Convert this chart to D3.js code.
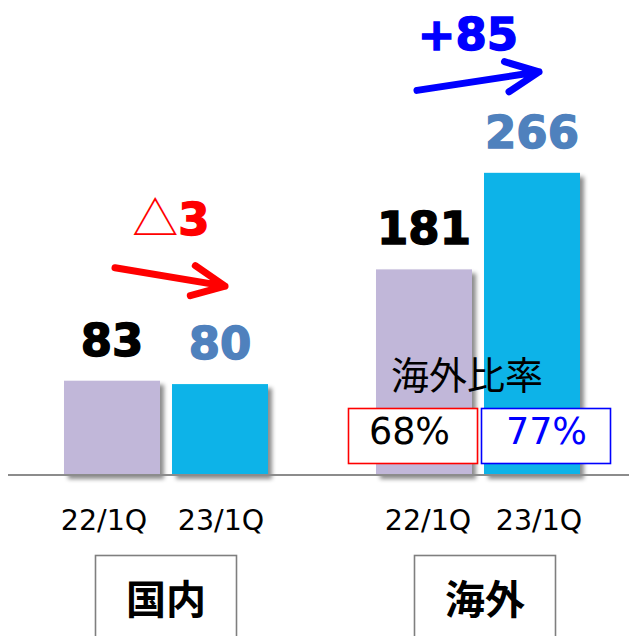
<!DOCTYPE html>
<html>
<head>
<meta charset="utf-8">
<script src="https://cdn.jsdelivr.net/npm/d3@7"></script>
<style>
  html, body { margin: 0; padding: 0; background: #fff; }
  svg { display: block; }
</style>
</head>
<body>
<div id="chart"></div>
<script>
// ---- data ----
const groups = ["国内", "海外"];
const periods = ["22/1Q", "23/1Q"];
const values = {
  "国内": [83, 80],
  "海外": [181, 266]
};
const changeLabels = ["△3", "+85"];
const ratioTitle = "海外比率";
const ratioLabels = ["68%", "77%"];

// ---- styles ----
const W = 629, H = 636;
const barColors = ["#c1b7d9", "#07b3e8"];
const labelColors = ["#000000", "#4f81bd"];
const changeColors = ["#ff0000", "#0000ff"];

const svg = d3.select("#chart").append("svg")
  .attr("width", W).attr("height", H);

const defs = svg.append("defs");
const f = defs.append("filter").attr("id", "shadow")
  .attr("x", "-10%").attr("y", "-10%").attr("width", "130%").attr("height", "130%");
f.append("feDropShadow").attr("dx", 4).attr("dy", 4)
  .attr("stdDeviation", 2.2).attr("flood-color", "#000").attr("flood-opacity", 0.45);

// ---- scales ----
const x0 = d3.scaleBand().domain(groups).range([64, 580]).paddingInner(108 / 312).paddingOuter(0);
const x1 = d3.scaleBand().domain(periods).range([0, x0.bandwidth()]).paddingInner(12 / 108).paddingOuter(0);
const baseY = 475;
const y = d3.scaleLinear().domain([0, 300]).range([baseY, baseY - 1.136 * 300]);

const xc = (g, i) => x0(g) + x1(periods[i]) + x1.bandwidth() / 2;

// ---- bars ----
groups.forEach(g => {
  const gg = svg.append("g");
  gg.selectAll("rect").data(values[g]).join("rect")
    .attr("x", (d, i) => x0(g) + x1(periods[i]))
    .attr("y", d => y(d))
    .attr("width", x1.bandwidth())
    .attr("height", d => y(0) - y(d))
    .attr("fill", (d, i) => barColors[i])
    .attr("filter", "url(#shadow)");
});

// ---- baseline ----
svg.append("line")
  .attr("x1", 8).attr("x2", W).attr("y1", baseY).attr("y2", baseY)
  .attr("stroke", "#8c8c8c").attr("stroke-width", 2);

// ---- value labels ----
groups.forEach(g => {
  svg.append("g").selectAll("text").data(values[g]).join("text")
    .attr("x", (d, i) => xc(g, i))
    .attr("y", d => y(d) - 25)
    .attr("text-anchor", "middle")
    .attr("font-family", "'DejaVu Sans', Verdana, sans-serif")
    .attr("font-weight", "bold")
    .attr("font-size", 45)
    .attr("fill", (d, i) => labelColors[i])
    .attr("stroke", (d, i) => labelColors[i])
    .attr("stroke-width", 1.4)
    .text(d => d);
});

// ---- period tick labels ----
const tickDx = [[-8, 1], [4, 7]];
groups.forEach((g, gi) => {
  svg.append("g").selectAll("text").data(periods).join("text")
    .attr("x", (d, i) => xc(g, i) + tickDx[gi][i])
    .attr("y", 530)
    .attr("text-anchor", "middle")
    .attr("font-family", "'DejaVu Sans', Verdana, sans-serif")
    .attr("font-size", 28.5)
    .attr("fill", "#000")
    .text(d => d);
});

// ---- group boxes ----
groups.forEach((g, gi) => {
  const cx = x0(g) + x0.bandwidth() / 2 + (gi === 0 ? 0 : 7);
  svg.append("rect")
    .attr("x", cx - 70.5).attr("y", 555.5)
    .attr("width", 141).attr("height", 100)
    .attr("fill", "none").attr("stroke", "#7f7f7f").attr("stroke-width", 1.6);
  svg.append("text")
    .attr("x", cx).attr("y", 597)
    .attr("text-anchor", "middle").attr("dominant-baseline", "central")
    .attr("font-family", "'Noto Sans CJK JP', sans-serif")
    .attr("font-weight", "bold").attr("font-size", 40)
    .attr("fill", "#000").text(g);
});

// ---- change arrows ----
function arrow(xs, ys, xt, yt, color) {
  const ang = Math.atan2(yt - ys, xt - xs);
  const len = 36, spread = 25 * Math.PI / 180;
  const a1 = [xt - len * Math.cos(ang - spread), yt - len * Math.sin(ang - spread)];
  const a2 = [xt - len * Math.cos(ang + spread), yt - len * Math.sin(ang + spread)];
  const p = d3.path();
  p.moveTo(xs, ys); p.lineTo(xt, yt);
  p.moveTo(a1[0], a1[1]); p.lineTo(xt, yt); p.lineTo(a2[0], a2[1]);
  svg.append("path").attr("d", p.toString())
    .attr("fill", "none").attr("stroke", color).attr("stroke-width", 7)
    .attr("stroke-linecap", "round").attr("stroke-linejoin", "round");
}
// domestic (decrease)
const d0 = xc("国内", 0), d1 = xc("国内", 1);
arrow(d0 + 3, y(values["国内"][0]) - 113, d1 + 5, y(values["国内"][1]) - 98, changeColors[0]);
const t1 = svg.append("text")
  .attr("x", (d0 + d1) / 2 + 5).attr("y", 235)
  .attr("text-anchor", "middle").attr("fill", changeColors[0]);
t1.append("tspan").attr("font-family", "'Noto Sans CJK JP', sans-serif")
  .attr("font-size", 46).attr("font-weight", 400).text(changeLabels[0].slice(0, 1));
t1.append("tspan").attr("font-family", "'DejaVu Sans', sans-serif")
  .attr("font-size", 45).attr("font-weight", "bold")
  .attr("stroke", changeColors[0]).attr("stroke-width", 1.4)
  .text(changeLabels[0].slice(1));

// overseas (increase)
const o0 = xc("海外", 0), o1 = xc("海外", 1);
arrow(o0 - 7, y(values["海外"][0]) - 179, o1 + 7, y(values["海外"][1]) - 101, changeColors[1]);
svg.append("text")
  .attr("x", (o0 + o1) / 2 - 10).attr("y", 50)
  .attr("text-anchor", "middle").attr("fill", changeColors[1])
  .attr("stroke", changeColors[1]).attr("stroke-width", 1.4)
  .attr("font-family", "'DejaVu Sans', sans-serif")
  .attr("font-size", 45).attr("font-weight", "bold")
  .text(changeLabels[1]);

// ---- overseas ratio ----
svg.append("text")
  .attr("x", 467).attr("y", 372)
  .attr("text-anchor", "middle").attr("dominant-baseline", "central")
  .attr("font-family", "'Noto Sans CJK JP', sans-serif")
  .attr("font-size", 38).attr("fill", "#000")
  .text(ratioTitle);

const ratioBoxes = [
  { x: 348, stroke: "#ff0000", fill: "#000000" },
  { x: 481, stroke: "#0000ff", fill: "#0000ff" }
];
ratioLabels.forEach((lab, i) => {
  const b = ratioBoxes[i];
  svg.append("rect")
    .attr("x", b.x + 0.5).attr("y", 408.5).attr("width", 129).attr("height", 55)
    .attr("fill", "#fff").attr("stroke", b.stroke).attr("stroke-width", 1.6);
  svg.append("text")
    .attr("x", b.x + 64.5 - (i === 0 ? 3 : -1)).attr("y", 444)
    .attr("text-anchor", "middle")
    .attr("font-family", "'DejaVu Sans', sans-serif")
    .attr("font-size", 36.5).attr("fill", b.fill)
    .text(lab);
});
</script>
</body>
</html>
